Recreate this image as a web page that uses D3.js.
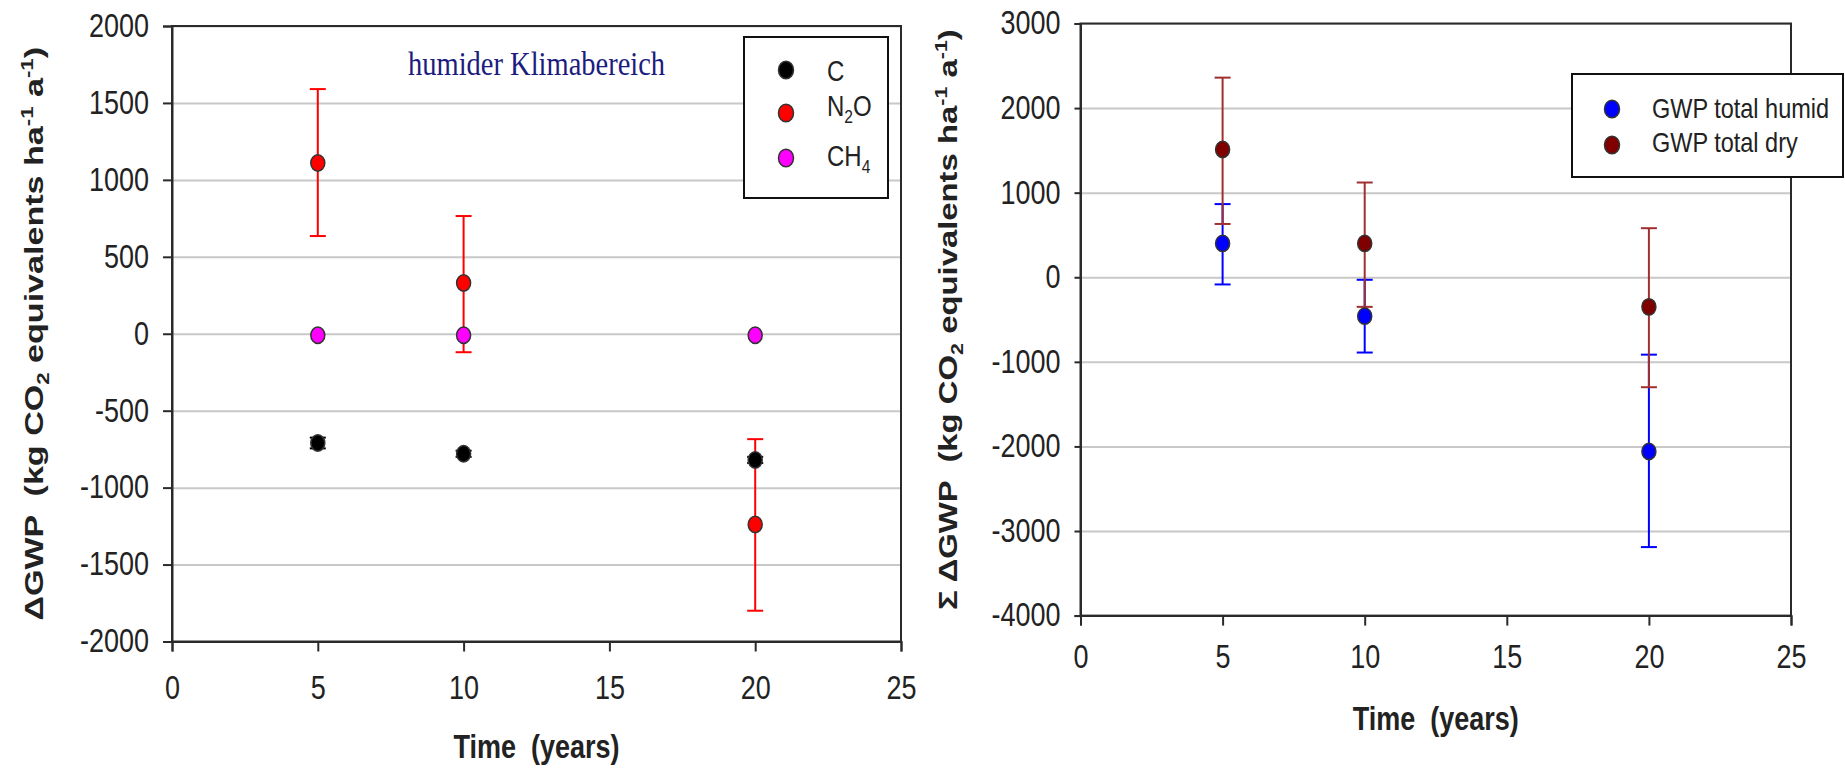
<!DOCTYPE html>
<html>
<head>
<meta charset="utf-8">
<script src="https://cdn.jsdelivr.net/npm/d3@7"></script>
<style>
  body { margin: 0; background: #fff; }
</style>
</head>
<body>
<script>
// ---- data ----
var years = [5, 10, 20];

// left panel: humider Klimabereich
var cVals   = [-710, -780, -820];
var cLo     = [-745, -800, -840];
var cHi     = [-675, -760, -800];
var n2oVals = [1110, 330, -1240];
var n2oLo   = [635, -120, -1800];
var n2oHi   = [1590, 765, -685];
var ch4Vals = [-10, -10, -10];

// right panel: totals
var humidVals = [400, -460, -2060];
var humidLo   = [-85, -890, -3190];
var humidHi   = [865, -30, -915];
var dryVals   = [1510, 400, -350];
var dryLo     = [630, -350, -1300];
var dryHi     = [2360, 1120, 580];

var xTicks = [0, 5, 10, 15, 20, 25];
var leftYTicks = [-2000, -1500, -1000, -500, 0, 500, 1000, 1500, 2000];
var rightYTicks = [-4000, -3000, -2000, -1000, 0, 1000, 2000, 3000];

var SY = 1.2; // the source picture is stretched vertically
var SANS = "'Liberation Sans', Arial, sans-serif";

var svg = d3.select("body").append("svg")
  .attr("width", 1845).attr("height", 768)
  .style("font-family", SANS);

function stretchY(sel) {
  sel.each(function () {
    var t = d3.select(this);
    var x = +t.attr("x") || 0, y = +t.attr("y") || 0;
    t.attr("transform", "translate(" + x + "," + y + ") scale(1," + SY + ") translate(" + (-x) + "," + (-y) + ")");
  });
}

function makeSeries(vals, lo, hi, color, barColor) {
  return years.map(function (yr, i) {
    return { x: yr, v: vals[i], lo: lo ? lo[i] : null, hi: hi ? hi[i] : null, color: color, bar: barColor };
  });
}

function panel(cfg) {
  var g = svg.append("g");
  var x = d3.scaleLinear().domain([0, 25]).range(cfg.xr);
  var y = d3.scaleLinear().domain(cfg.yd).range(cfg.yr);

  // grid
  g.append("g")
    .attr("transform", "translate(" + cfg.xr[0] + ",0)")
    .call(d3.axisLeft(y).tickValues(cfg.yTicks).tickSize(-(cfg.xr[1] - cfg.xr[0])).tickFormat(""))
    .call(function (a) { a.select(".domain").remove(); })
    .selectAll("line").attr("stroke", "#c8c8c8").attr("stroke-width", 2);

  // frame
  g.append("rect")
    .attr("x", cfg.xr[0]).attr("y", cfg.yr[1])
    .attr("width", cfg.xr[1] - cfg.xr[0]).attr("height", cfg.yr[0] - cfg.yr[1])
    .attr("fill", "none").attr("stroke", "#2a2a2a").attr("stroke-width", 2);

  // axes (plain hyphen for negatives, like the source)
  var ya = g.append("g")
    .attr("transform", "translate(" + cfg.xr[0] + ",0)")
    .call(d3.axisLeft(y).tickValues(cfg.yTicks).tickSize(cfg.yTickSize).tickPadding(cfg.yPad)
      .tickFormat(function (d) { return String(d); }));
  var xa = g.append("g")
    .attr("transform", "translate(0," + cfg.yr[0] + ")")
    .call(d3.axisBottom(x).tickValues(xTicks).tickSize(10).tickPadding(cfg.xPad));
  [ya, xa].forEach(function (a) {
    a.attr("font-family", null).attr("font-size", null);
    a.select(".domain").attr("stroke", "#2a2a2a").attr("stroke-width", 2);
    a.selectAll(".tick line").attr("stroke", "#2a2a2a").attr("stroke-width", 2);
    a.selectAll("text").style("font-size", "27px").attr("fill", "#222").call(stretchY);
  });

  // error bars first, markers on top
  cfg.series.forEach(function (s) {
    var eb = s.filter(function (d) { return d.lo !== null; });
    var bars = g.append("g").selectAll("g").data(eb).enter().append("g")
      .attr("stroke", function (d) { return d.bar; }).attr("stroke-width", 2);
    bars.append("line")
      .attr("x1", function (d) { return x(d.x); }).attr("x2", function (d) { return x(d.x); })
      .attr("y1", function (d) { return y(d.lo); }).attr("y2", function (d) { return y(d.hi); });
    bars.append("line")
      .attr("x1", function (d) { return x(d.x) - 8; }).attr("x2", function (d) { return x(d.x) + 8; })
      .attr("y1", function (d) { return y(d.lo); }).attr("y2", function (d) { return y(d.lo); });
    bars.append("line")
      .attr("x1", function (d) { return x(d.x) - 8; }).attr("x2", function (d) { return x(d.x) + 8; })
      .attr("y1", function (d) { return y(d.hi); }).attr("y2", function (d) { return y(d.hi); });
  });
  cfg.series.forEach(function (s) {
    g.append("g").selectAll("ellipse").data(s).enter().append("ellipse")
      .attr("cx", function (d) { return x(d.x); })
      .attr("cy", function (d) { return y(d.v); })
      .attr("rx", 7).attr("ry", 8.2)
      .attr("fill", function (d) { return d.color; })
      .attr("stroke", "#333").attr("stroke-width", 1.5);
  });

  // x title
  g.append("text")
    .attr("x", (cfg.xr[0] + cfg.xr[1]) / 2).attr("y", cfg.xTitleY)
    .attr("text-anchor", "middle").attr("font-size", 27).attr("font-weight", "bold")
    .attr("fill", "#222").style("white-space", "pre")
    .text("Time  (years)").call(stretchY);

  // y title (rotated, stretched along its baseline)
  var t = g.append("text")
    .attr("text-anchor", "middle").attr("font-size", 26).attr("font-weight", "bold")
    .attr("fill", "#222").style("white-space", "pre");
  t.append("tspan").text(cfg.yPrefix + "  (kg CO");
  t.append("tspan").attr("font-size", 17).attr("dy", 6).text("2");
  t.append("tspan").attr("dy", -6).text(" equivalents ha");
  t.append("tspan").attr("font-size", 17).attr("dy", -10).text("-1");
  t.append("tspan").attr("dy", 10).text(" a");
  t.append("tspan").attr("font-size", 17).attr("dy", -10).text("-1");
  t.append("tspan").attr("dy", 10).text(")");
  var w = t.node().getComputedTextLength();
  t.attr("transform", "translate(" + cfg.yTitleX + "," + (cfg.yr[0] + cfg.yr[1]) / 2 + ") rotate(-90) scale(" + (cfg.yTitleLen / w) + ",1)");

  // legend
  var L = cfg.legend;
  var lg = g.append("g");
  lg.append("rect").attr("x", L.x).attr("y", L.y).attr("width", L.w).attr("height", L.h)
    .attr("fill", "#fff").attr("stroke", "#111").attr("stroke-width", 2);
  L.items.forEach(function (it, i) {
    lg.append("ellipse").attr("cx", L.mx).attr("cy", L.my[i]).attr("rx", 7.5).attr("ry", 8.8)
      .attr("fill", it.color).attr("stroke", "#333").attr("stroke-width", 1.5);
    var lt = lg.append("text").attr("x", L.tx).attr("y", L.ty[i])
      .attr("font-size", L.fs).attr("fill", "#222");
    it.parts.forEach(function (p) {
      if (p.sub) lt.append("tspan").attr("font-size", L.fs * 0.65).attr("dy", 6).text(p.t);
      else lt.append("tspan").attr("dy", p.back ? -6 : 0).text(p.t);
    });
    lt.call(stretchY);
  });

  return g;
}

var left = panel({
  xr: [172, 901], yr: [641.5, 26], yd: [-2000, 2000], yTicks: leftYTicks,
  yTickSize: 9, yPad: 14, xPad: 25,
  xTitleY: 758, yTitleX: 43, yTitleLen: 574, yPrefix: "\u0394GWP",
  series: [
    makeSeries(cVals, cLo, cHi, "#000000", "#000000"),
    makeSeries(n2oVals, n2oLo, n2oHi, "#ff0000", "#ff0000"),
    makeSeries(ch4Vals, null, null, "#ff00ff", "#ff00ff")
  ],
  legend: {
    x: 744, y: 37, w: 144, h: 161, mx: 786, my: [70, 113, 158], tx: 827, ty: [81, 116, 166], fs: 24,
    items: [
      { color: "#000000", parts: [{ t: "C" }] },
      { color: "#ff0000", parts: [{ t: "N" }, { t: "2", sub: true }, { t: "O", back: true }] },
      { color: "#ff00ff", parts: [{ t: "CH" }, { t: "4", sub: true }] }
    ]
  }
});

// panel title
left.append("text")
  .attr("x", 408).attr("y", 75)
  .style("font-family", "'Liberation Serif', 'Times New Roman', serif")
  .attr("font-size", 28.5).attr("fill", "#1c1c80")
  .text("humider Klimabereich").call(stretchY);

panel({
  xr: [1080.5, 1791], yr: [615.6, 23.5], yd: [-4000, 3000], yTicks: rightYTicks,
  yTickSize: 6, yPad: 14, xPad: 19,
  xTitleY: 730, yTitleX: 957, yTitleLen: 581, yPrefix: "\u03a3 \u0394GWP",
  series: [
    makeSeries(humidVals, humidLo, humidHi, "#0000ff", "#0000ff"),
    makeSeries(dryVals, dryLo, dryHi, "#800000", "#a03030")
  ],
  legend: {
    x: 1572, y: 74, w: 271, h: 103, mx: 1612, my: [109, 145], tx: 1652, ty: [118, 152], fs: 23.5,
    items: [
      { color: "#0000ff", parts: [{ t: "GWP total humid" }] },
      { color: "#800000", parts: [{ t: "GWP total dry" }] }
    ]
  }
});
</script>
</body>
</html>
